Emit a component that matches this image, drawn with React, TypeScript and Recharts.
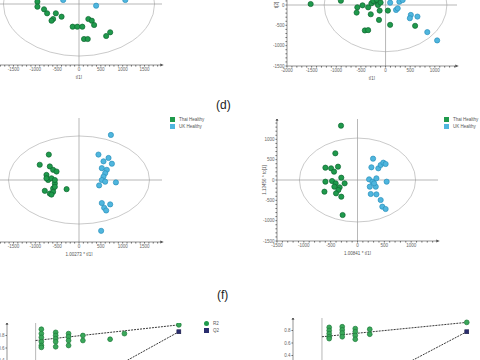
import React from 'react';
import {
  ScatterChart,
  Scatter,
  XAxis,
  YAxis,
  ReferenceLine,
  ReferenceArea,
  Legend,
} from 'recharts';

type Pt = [number, number];

// (c) PCA scores, top-left
const THAI_A: Pt[] = [
  [-952, 57], [-952, -66], [-800, -130], [-730, -229], [-530, -229], [-399, -312],
  [-592, -369], [-629, -411], [-145, -558], [-39, -558], [76, -558], [214, -369],
  [293, -411], [346, -517], [115, -861], [200, -861], [622, -787], [714, -696],
];
const UK_A: Pt[] = [[392, -42], [-362, 98], [1060, 98]];

// top-right
const THAI_B: Pt[] = [
  [-1520, 24], [-907, 105], [-573, -57], [-467, -8], [-353, -57], [-287, 41],
  [-220, 81], [-153, 0], [-587, -187], [-300, -228], [-120, -138], [47, -138],
  [-133, -366], [93, -488], [-420, -626], [-353, -618], [600, -512], [-250, 100],
  [-180, 130], [-100, 60],
];
const UK_B: Pt[] = [
  [93, 57], [280, 81], [347, 122], [213, -122], [247, -81], [513, -244],
  [493, -325], [647, -285], [847, -667], [1047, -871],
];

// (d) PLS-DA scores, middle-left
const THAI_C: Pt[] = [
  [-691, 615], [-899, 369], [-668, 328], [-592, 246], [-514, 205], [-745, 123],
  [-706, 0], [-630, 41], [-553, -82], [-592, -205], [-783, -262], [-668, -328],
  [-592, -287], [-284, -221], [-553, -164], [-745, 41], [-553, 0], [-630, -353],
];
const UK_C: Pt[] = [
  [730, 1090], [445, 615], [676, 533], [561, 451], [753, 394], [522, 287],
  [637, 246], [599, 164], [561, 82], [522, 0], [599, -41], [845, -58],
  [461, -131], [522, -558], [714, -590], [576, -672], [622, -738], [507, -1230],
];

// OPLS-DA scores, middle-right
const THAI_D: Pt[] = [
  [-307, 1336], [-413, 656], [-598, 303], [-492, 287], [-437, 205], [-363, 328],
  [-302, 57], [-598, -41], [-474, -25], [-407, -82], [-240, -82], [-333, -180],
  [-357, -246], [-400, -328], [-616, -287], [-302, -410], [-277, -861], [-431, -164],
];
const UK_D: Pt[] = [
  [290, 525], [259, 312], [388, 287], [432, 369], [481, 426], [524, 394],
  [216, 16], [278, -41], [352, 41], [543, -41], [229, -164], [340, -164],
  [247, -344], [352, -353], [432, -492], [463, -656], [524, -713], [309, -82],
];

// Hotelling T2 radii [t1, t2]
const T2_A: Pt = [1730, 1280];
const T2_B: Pt = [1245, 1148];
const T2_C: Pt = [1614, 1065];
const T2_D: Pt = [1082, 1032];

// (f) permutation tests
const R2_E: Pt[] = [
  [0.04, 0.9], [0.04, 0.83], [0.04, 0.77], [0.04, 0.7], [0.04, 0.64], [0.04, 0.61],
  [0.14, 0.85], [0.14, 0.8], [0.14, 0.75], [0.14, 0.7], [0.14, 0.62],
  [0.23, 0.83], [0.23, 0.78], [0.23, 0.72], [0.23, 0.64],
  [0.33, 0.8], [0.33, 0.72], [0.52, 0.74], [0.62, 0.83], [1, 0.97],
];
const Q2_E: Pt[] = [
  [0.04, -0.38], [0.04, -0.46], [0.04, -0.52], [0.14, -0.35], [0.14, -0.44],
  [0.23, -0.33], [0.23, -0.41], [0.33, -0.3], [0.52, -0.22], [0.62, -0.15], [1, 0.86],
];
const R2_LINE_E: Pt[] = [[0, 0.72], [1, 0.97]];
const Q2_LINE_E: Pt[] = [[0, -0.41], [1, 0.86]];

const R2_F: Pt[] = [
  [0.05, 0.85], [0.05, 0.8], [0.05, 0.75], [0.05, 0.7], [0.05, 0.67],
  [0.14, 0.86], [0.14, 0.81], [0.14, 0.76], [0.14, 0.7],
  [0.23, 0.83], [0.23, 0.78], [0.23, 0.72], [0.23, 0.66],
  [0.33, 0.82], [0.33, 0.74], [1, 0.93],
];
const Q2_F: Pt[] = [
  [0.05, -0.42], [0.05, -0.5], [0.14, -0.38], [0.14, -0.47], [0.23, -0.36],
  [0.33, -0.33], [1, 0.78],
];
const R2_LINE_F: Pt[] = [[0, 0.7], [1, 0.93]];
const Q2_LINE_F: Pt[] = [[0, -0.44], [1, 0.78]];

const PERM_TICKS = [-0.4, -0.2, 0, 0.2, 0.4, 0.6, 0.8];

const GREEN = '#1f9a4c';
const GREEN_DARK = '#0e6630';
const BLUE = '#4fb6de';
const BLUE_DARK = '#2b90bb';
const NAVY = '#2a2d6e';
const AXIS = '#666';
const FONT = 4.5;

const toObj = (a: Pt[]) => a.map(([x, y]) => ({ x, y }));

function steps(lo: number, hi: number, step: number): number[] {
  const out: number[] = [];
  for (let v = Math.ceil(lo / step) * step; v <= hi; v += step) out.push(v);
  return out;
}

function Dot(color: string, edge: string, r = 2.6) {
  return (p: any) => (
    <circle cx={p.cx} cy={p.cy} r={r} fill={color} stroke={edge} strokeWidth={0.7} />
  );
}

function Square(p: any) {
  return <rect x={p.cx - 2} y={p.cy - 2} width={4} height={4} fill={NAVY} stroke="#15183f" strokeWidth={0.5} />;
}

function Ellipse(p: any) {
  const { x, y, width, height } = p;
  return (
    <ellipse
      cx={x + width / 2}
      cy={y + height / 2}
      rx={Math.abs(width) / 2}
      ry={Math.abs(height) / 2}
      fill="none"
      stroke="#bdbdbd"
      strokeWidth={0.8}
    />
  );
}

const noShape = () => <g />;

const legendText = (v: string) => <span style={{ color: '#555' }}>{v}</span>;

// keep legend entries in series order (R2 before Q2)
const LEGEND_ORDER = ['Thai Healthy', 'UK Healthy', 'R2', 'Q2'];
const byOrder = (item: any) => LEGEND_ORDER.indexOf(item.value);

function legendStyle(pos: { left: number; top: number }) {
  return {
    left: pos.left,
    top: pos.top,
    width: 60,
    fontSize: FONT,
    lineHeight: '7px',
    whiteSpace: 'nowrap' as const,
  };
}

interface PcaProps {
  plotLeft: number;
  plotTop: number;
  plotW: number;
  plotH: number;
  yAxisW: number;
  xDomain: [number, number];
  yDomain: [number, number];
  xMajor: number[];
  yMajor?: number[];
  xLabel: string;
  yLabel?: string;
  thai: Pt[];
  uk: Pt[];
  t2: Pt;
  legend?: { left: number; top: number };
  rightPad?: number;
}

function PcaPanel(props: PcaProps) {
  const { plotLeft, plotTop, plotW, plotH, yAxisW, xDomain, yDomain, xMajor, yMajor, xLabel, yLabel, thai, uk, t2, legend } = props;
  const rightPad = props.rightPad ?? 4;
  const xH = 14;
  const xTicks = steps(xDomain[0], xDomain[1] - 1, 100);
  const yTicks = steps(yDomain[0], yDomain[1] - 1, 100);
  return (
    <div style={{ position: 'absolute', left: plotLeft - yAxisW, top: plotTop }}>
      <ScatterChart
        width={yAxisW + plotW + rightPad}
        height={plotH + xH}
        margin={{ top: 0, right: rightPad, bottom: 0, left: 0 }}
      >
        <XAxis
          type="number"
          dataKey="x"
          domain={xDomain}
          ticks={xTicks}
          interval={0}
          tickFormatter={(v: number) => (xMajor.includes(v) ? String(v) : '')}
          tick={{ fontSize: FONT, fill: AXIS }}
          tickSize={1.5}
          tickMargin={1.5}
          height={xH}
          stroke={AXIS}
          axisLine={{ stroke: AXIS, strokeWidth: 0.7, markerEnd: 'url(#axArrow)' }}
          label={{ value: xLabel, position: 'insideBottom', offset: 0, style: { fontSize: FONT, fill: '#555' } }}
        />
        {yAxisW > 0 ? (
          <YAxis
            type="number"
            dataKey="y"
            domain={yDomain}
            ticks={yTicks}
            interval={0}
            width={yAxisW}
            tickFormatter={(v: number) => (yMajor && yMajor.includes(v) ? String(v) : '')}
            tick={{ fontSize: FONT, fill: AXIS }}
            tickSize={1.5}
            tickMargin={1}
            stroke={AXIS}
            axisLine={{ stroke: AXIS, strokeWidth: 0.7, markerStart: 'url(#axArrow)' }}
            label={{ value: yLabel, angle: -90, position: 'insideLeft', offset: 3, style: { fontSize: FONT, fill: '#555', textAnchor: 'middle' } }}
          />
        ) : (
          <YAxis type="number" dataKey="y" domain={yDomain} hide />
        )}
        <ReferenceArea x1={-t2[0]} x2={t2[0]} y1={-t2[1]} y2={t2[1]} shape={Ellipse} ifOverflow="visible" />
        <ReferenceLine x={0} stroke="#9a9a9a" strokeWidth={0.7} />
        <ReferenceLine y={0} stroke="#9a9a9a" strokeWidth={0.7} />
        <Scatter name="Thai Healthy" data={toObj(thai)} fill={GREEN} legendType="square" shape={Dot(GREEN, GREEN_DARK)} isAnimationActive={false} />
        <Scatter name="UK Healthy" data={toObj(uk)} fill={BLUE} legendType="square" shape={Dot(BLUE, BLUE_DARK)} isAnimationActive={false} />
        {legend && (
          <Legend
            layout="vertical"
            align="center"
            verticalAlign="middle"
            iconSize={5}
            formatter={legendText}
            itemSorter={byOrder}
            wrapperStyle={legendStyle(legend)}
          />
        )}
      </ScatterChart>
    </div>
  );
}

interface PermProps {
  plotLeft: number;
  plotTop: number;
  plotW: number;
  plotH: number;
  yAxisW: number;
  r2: Pt[];
  q2: Pt[];
  r2Line: Pt[];
  q2Line: Pt[];
  legend?: { left: number; top: number };
}

function PermPanel({ plotLeft, plotTop, plotW, plotH, yAxisW, r2, q2, r2Line, q2Line, legend }: PermProps) {
  const rightPad = 40;
  const dashed = { stroke: '#222', strokeWidth: 0.9, strokeDasharray: '2 1' };
  return (
    <div style={{ position: 'absolute', left: plotLeft - yAxisW, top: plotTop }}>
      <ScatterChart
        width={yAxisW + plotW + rightPad}
        height={plotH}
        margin={{ top: 0, right: rightPad, bottom: 0, left: 0 }}
      >
        <XAxis type="number" dataKey="x" domain={[-0.2, 1.05]} hide />
        <YAxis
          type="number"
          dataKey="y"
          domain={[-0.6, 1.0]}
          ticks={PERM_TICKS}
          interval={0}
          width={yAxisW}
          tickFormatter={(v: number) => v.toFixed(1)}
          tick={{ fontSize: FONT, fill: AXIS }}
          tickSize={1.5}
          tickMargin={1}
          stroke={AXIS}
          axisLine={{ stroke: AXIS, strokeWidth: 0.7, markerStart: 'url(#axArrow)' }}
        />
        <ReferenceLine x={0} stroke="#9a9a9a" strokeWidth={0.7} />
        <Scatter data={toObj(r2Line)} line={dashed} shape={noShape} legendType="none" isAnimationActive={false} />
        <Scatter data={toObj(q2Line)} line={dashed} shape={noShape} legendType="none" isAnimationActive={false} />
        <Scatter name="R2" data={toObj(r2)} fill={GREEN} legendType="circle" shape={Dot('#3aa75a', '#1b7a38', 2.4)} isAnimationActive={false} />
        <Scatter name="Q2" data={toObj(q2)} fill={NAVY} legendType="square" shape={Square} isAnimationActive={false} />
        {legend && (
          <Legend
            layout="vertical"
            align="center"
            verticalAlign="middle"
            iconSize={5}
            formatter={legendText}
            itemSorter={byOrder}
            wrapperStyle={legendStyle(legend)}
          />
        )}
      </ScatterChart>
    </div>
  );
}

const MAJOR_1500 = [-1500, -1000, -500, 0, 500, 1000, 1500];
const MAJOR_B_X = [-2000, -1500, -1000, -500, 0, 500, 1000];
const MAJOR_D_X = [-1500, -1000, -500, 0, 500, 1000];
const MAJOR_Y = [-1500, -1000, -500, 0, 500, 1000];

export default function App() {
  return (
    <div
      style={{
        position: 'absolute',
        left: 0,
        top: 0,
        width: 480,
        height: 360,
        overflow: 'hidden',
        background: '#fff',
        fontFamily: '"Liberation Sans", Arial, sans-serif',
      }}
    >
      <svg width={0} height={0} style={{ position: 'absolute' }}>
        <defs>
          <marker id="axArrow" viewBox="0 0 10 10" refX="5" refY="5" markerWidth="5" markerHeight="5" orient="auto-start-reverse">
            <path d="M0,1 L10,5 L0,9 z" fill="#555" />
          </marker>
        </defs>
      </svg>

      <PcaPanel
        plotLeft={-4} plotTop={-57} plotW={166} plotH={122} yAxisW={0}
        xDomain={[-1900, 1900]} yDomain={[-1500, 1500]}
        xMajor={MAJOR_1500} xLabel="t[1]"
        thai={THAI_A} uk={UK_A} t2={T2_A}
      />
      <PcaPanel
        plotLeft={287} plotTop={-56} plotW={170} plotH={122} yAxisW={14}
        xDomain={[-2000, 1450]} yDomain={[-1500, 1500]}
        xMajor={MAJOR_B_X} yMajor={MAJOR_Y} xLabel="t[1]" yLabel="t[2]"
        thai={THAI_B} uk={UK_B} t2={T2_B}
      />
      <PcaPanel
        plotLeft={-4} plotTop={118} plotW={166} plotH={124} yAxisW={0}
        xDomain={[-1900, 1900]} yDomain={[-1500, 1500]}
        xMajor={MAJOR_1500} xLabel="1.00273 * t[1]"
        thai={THAI_C} uk={UK_C} t2={T2_C}
        legend={{ left: 174, top: -2 }} rightPad={45}
      />
      <PcaPanel
        plotLeft={277} plotTop={119} plotW={161} plotH={122} yAxisW={16}
        xDomain={[-1500, 1500]} yDomain={[-1500, 1500]}
        xMajor={MAJOR_D_X} yMajor={MAJOR_Y} xLabel="1.00841 * t[1]" yLabel="1.13456 * to[1]"
        thai={THAI_D} uk={UK_D} t2={T2_D}
        legend={{ left: 183, top: -3 }} rightPad={42}
      />

      <PermPanel
        plotLeft={7} plotTop={322.5} plotW={179} plotH={100} yAxisW={8}
        r2={R2_E} q2={Q2_E} r2Line={R2_LINE_E} q2Line={Q2_LINE_E}
        legend={{ left: 205, top: -2.5 }}
      />
      <PermPanel
        plotLeft={293} plotTop={317.5} plotW={181} plotH={100} yAxisW={12}
        r2={R2_F} q2={Q2_F} r2Line={R2_LINE_F} q2Line={Q2_LINE_F}
      />

      <div style={{ position: 'absolute', left: 216, top: 98, fontSize: 12, color: '#222' }}>(d)</div>
      <div style={{ position: 'absolute', left: 217, top: 288, fontSize: 12, color: '#222' }}>(f)</div>
    </div>
  );
}
